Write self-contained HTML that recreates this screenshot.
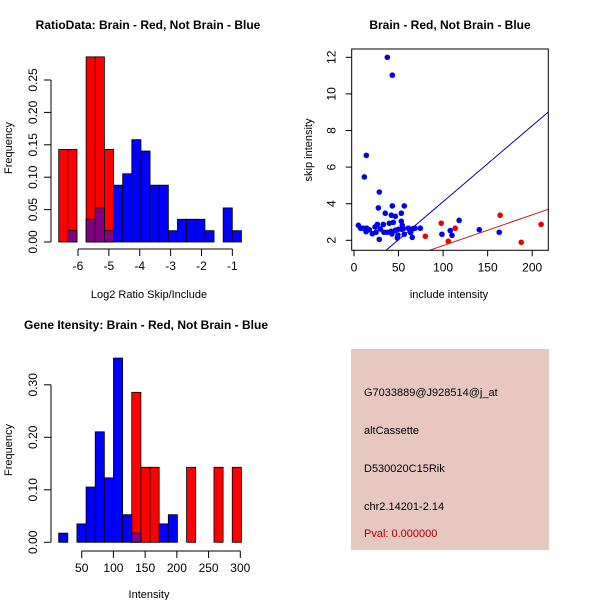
<!DOCTYPE html>
<html><head><meta charset="utf-8"><style>
body{margin:0;background:#fff;}
svg{display:block;font-family:"Liberation Sans",Arial,sans-serif;}
</style></head><body>
<svg id="c" width="600" height="600" viewBox="0 0 600 600" xmlns="http://www.w3.org/2000/svg">
<rect x="0" y="0" width="600" height="600" fill="#fff"/>
<text x="148" y="29" text-anchor="middle" font-weight="bold" font-size="12">RatioData: Brain - Red, Not Brain - Blue</text>
<text x="450" y="29" text-anchor="middle" font-weight="bold" font-size="12">Brain - Red, Not Brain - Blue</text>
<text x="146" y="329" text-anchor="middle" font-weight="bold" font-size="12">Gene Itensity: Brain - Red, Not Brain - Blue</text>
<g id="p1"></g>
<g id="p2"></g>
<g id="p3"></g>
<g>
<rect x="351" y="349" width="198" height="201" fill="#E6C8C0"/>
<text x="364" y="396" font-size="11">G7033889@J928514@j_at</text>
<text x="364" y="434" font-size="11">altCassette</text>
<text x="364" y="472" font-size="11">D530020C15Rik</text>
<text x="364" y="510" font-size="11">chr2.14201-2.14</text>
<text x="364" y="537" font-size="11" fill="#a00000">Pval: 0.000000</text>
</g>
</svg>
<script>
// Ratio histogram data
const ratioBinStart = -6.625;
const ratioBinWidth = 0.296;
const ratioRed = [0.1429,0.1429,0,0.2857,0.2857,0.1429,0,0,0,0,0,0,0,0,0,0,0,0,0,0];
const ratioBlue = [0,0.0175,0,0.0351,0.0526,0.0175,0.0877,0.1053,0.1579,0.1404,0.0877,0.0877,0.0175,0.0351,0.0351,0.0351,0.0175,0,0.0526,0.0175];
const ratioXTicks = [-6,-5,-4,-3,-2,-1];
const ratioYTicks = [0,0.05,0.10,0.15,0.20,0.25];
const ratioYLabels = ["0.00","0.05","0.10","0.15","0.20","0.25"];
// Intensity histogram data
const intBinStart = 13.7;
const intBinWidth = 14.4;
const intRed = [0,0,0,0,0,0,0,0,0.2857,0.1429,0.1429,0,0,0,0.1429,0,0,0.1429,0,0.1429];
const intBlue = [0.0175,0,0.0351,0.1053,0.2105,0.1228,0.3509,0.0526,0.0175,0,0,0.0351,0.0526,0,0,0,0,0,0,0];
const intXTicks = [50,100,150,200,250,300];
const intYTicks = [0,0.10,0.20,0.30];
const intYLabels = ["0.00","0.10","0.20","0.30"];
// Scatter data
const blueX = [37.4,43,13.8,11.6,28.4,27.3,43,56.4,35.1,53.1,41.9,46.4,53.1,118,4.9,26.2,32.9,39.6,44.1,54.2,7.5,10.5,14.2,17.2,23.6,29.5,37.4,41.5,46.4,49.7,55.3,61,66.5,74.4,68.4,13.5,20.6,24.7,33.6,42.6,49.3,56.4,63.6,65.4,48.6,28.4,98.7,108,110,140.6,163,53.5];
const blueY = [12.0,11.02,6.64,5.46,4.64,3.77,3.88,3.88,3.48,3.48,3.37,3.31,3.04,3.09,2.82,2.87,2.87,2.93,2.98,2.82,2.66,2.66,2.66,2.58,2.73,2.62,2.44,2.49,2.55,2.6,2.64,2.66,2.64,2.66,2.66,2.47,2.36,2.44,2.44,2.35,2.29,2.33,2.42,2.16,2.13,2.05,2.33,2.53,2.27,2.58,2.44,2.6];
const redX = [80,97.9,113.6,105.8,164,187.7,210];
const redY = [2.22,2.93,2.66,1.95,3.37,1.89,2.87];
const blueSlope = 0.0415, blueIntercept = -0.04;
const redSlope = 0.0168, redIntercept = 0.03;
const scatXTicks = [0,50,100,150,200];
const scatYTicks = [2,4,6,8,10,12];

const NS = "http://www.w3.org/2000/svg";
function mk(parent, tag, attrs){const e=document.createElementNS(NS,tag);for(const k in attrs)e.setAttribute(k,attrs[k]);parent.appendChild(e);return e;}

function hist(g, binStart, binW, red, blue, xTicks, yTicks, yLabels, xs, ys, xTitle, yTitle, axisY, axisX, xt0, xt1){
  for(let i=0;i<red.length;i++){
    const x0=xs(binStart+i*binW), x1=xs(binStart+(i+1)*binW);
    if(red[i]>0){const r=mk(g,'rect',{x:x0,y:ys(red[i]),width:x1-x0,height:ys(0)-ys(red[i]),fill:'#ff0000',stroke:'#000','stroke-width':0.8});
      
      }
  }
  for(let i=0;i<blue.length;i++){
    const x0=xs(binStart+i*binW), x1=xs(binStart+(i+1)*binW);
    if(blue[i]>0){
      const ov=Math.min(blue[i],red[i]);
      const b=mk(g,'rect',{x:x0,y:ys(blue[i]),width:x1-x0,height:ys(0)-ys(blue[i]),fill:ov>0?'#800080':'#0000ff',stroke:'#000','stroke-width':0.8});
      
      
    }
  }
  mk(g,'line',{x1:xs(xt0)-0,y1:axisY,x2:xs(xt1),y2:axisY,stroke:'#000'});
  xTicks.forEach(t=>{mk(g,'line',{x1:xs(t),y1:axisY,x2:xs(t),y2:axisY+7,stroke:'#000'});
    const tx=mk(g,'text',{x:xs(t),y:axisY+21,'text-anchor':'middle','font-size':12});tx.textContent=t;
    
    });
  mk(g,'line',{x1:axisX,y1:ys(yTicks[0]),x2:axisX,y2:ys(yTicks[yTicks.length-1]),stroke:'#000'});
  yTicks.forEach((t,i)=>{mk(g,'line',{x1:axisX,y1:ys(t),x2:axisX-7,y2:ys(t),stroke:'#000'});
    const tx=mk(g,'text',{x:0,y:0,'text-anchor':'middle','font-size':12,transform:`translate(${axisX-14},${ys(t)}) rotate(-90)`});tx.textContent=yLabels[i];
    
    });
  const xl=mk(g,'text',{x:xTitle[1],y:xTitle[2],'text-anchor':'middle','font-size':11});xl.textContent=xTitle[0];
  
  
  const yl=mk(g,'text',{x:0,y:0,'text-anchor':'middle','font-size':11,transform:`translate(${yTitle[1]},${yTitle[2]}) rotate(-90)`});yl.textContent=yTitle[0];
  
  
}

// plot 1
{
  const xs=v=>78+(v+6)*30.87, ys=v=>242-v*648;
  hist(document.getElementById('p1'),ratioBinStart,ratioBinWidth,ratioRed,ratioBlue,ratioXTicks,ratioYTicks,ratioYLabels,xs,ys,
    ['Log2 Ratio Skip/Include',149,298],['Frequency',12,148],249,51,-6,-1);
}
// plot 3
{
  const xs=v=>81.7+(v-50)*0.6344, ys=v=>542.3-v*525;
  hist(document.getElementById('p3'),intBinStart,intBinWidth,intRed,intBlue,intXTicks,intYTicks,intYLabels,xs,ys,
    ['Intensity',149,598],['Frequency',12,450],551,51,50,300);
}
// plot 2
{
  const g=document.getElementById('p2');
  const xs=v=>354+v*0.891, ys=v=>240.3-(v-2)*18.3;
  const L=351.7,R=548.3,T=49,B=250.3;
  mk(g,'clipPath',{id:'clip2'});
  mk(document.getElementById('clip2'),'rect',{x:L,y:T,width:R-L,height:B-T});
  const lines=[[blueSlope,blueIntercept,'#00008b'],[redSlope,redIntercept,'#b22222']];
  lines.forEach(([m,b,c])=>{
    const x0=-10,x1=230;
    const ln=mk(g,'line',{x1:xs(x0),y1:ys(m*x0+b),x2:xs(x1),y2:ys(m*x1+b),stroke:c,'stroke-width':1,'clip-path':'url(#clip2)'});
    
    
  });
  blueX.forEach((x,i)=>{const p=mk(g,'circle',{cx:xs(x),cy:ys(blueY[i]),r:2.8,fill:'#0000ee'});
    
    });
  redX.forEach((x,i)=>{const p=mk(g,'circle',{cx:xs(x),cy:ys(redY[i]),r:2.8,fill:'#ee0000'});
    
    });
  mk(g,'rect',{x:L,y:T,width:R-L,height:B-T,fill:'none',stroke:'#000'});
  scatXTicks.forEach(t=>{mk(g,'line',{x1:xs(t),y1:B,x2:xs(t),y2:B+6,stroke:'#000'});
    const tx=mk(g,'text',{x:xs(t),y:B+21,'text-anchor':'middle','font-size':12});tx.textContent=t;
    
    });
  scatYTicks.forEach(t=>{mk(g,'line',{x1:L,y1:ys(t),x2:L-6,y2:ys(t),stroke:'#000'});
    const tx=mk(g,'text',{x:0,y:0,'text-anchor':'middle','font-size':12,transform:`translate(${L-16},${ys(t)}) rotate(-90)`});tx.textContent=t;
    
    });
  const xl=mk(g,'text',{x:449,y:298,'text-anchor':'middle','font-size':11});xl.textContent='include intensity';
  
  
  const yl=mk(g,'text',{x:0,y:0,'text-anchor':'middle','font-size':11,transform:'translate(312,150) rotate(-90)'});yl.textContent='skip intensity';
  
  
}
</script>
</body></html>
